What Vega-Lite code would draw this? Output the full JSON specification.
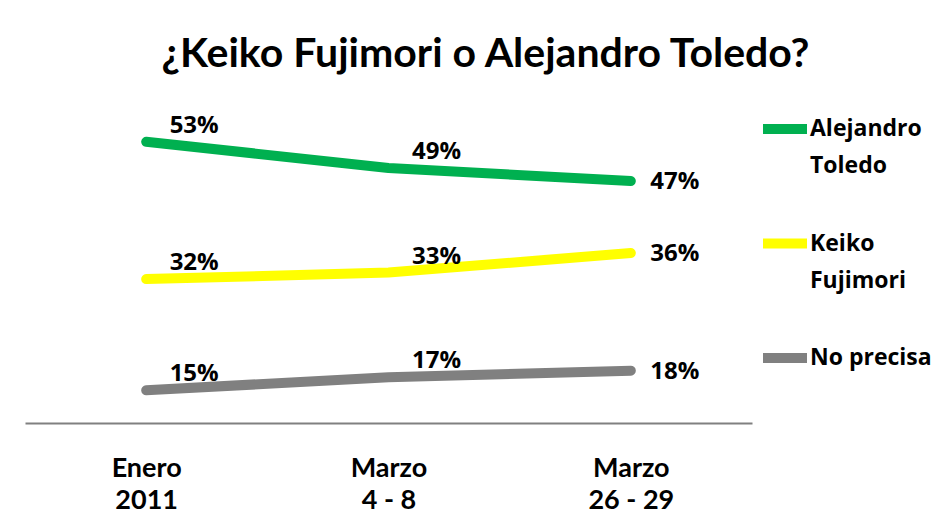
{
  "$schema": "https://vega.github.io/schema/vega-lite/v6.json",
  "width": 727,
  "height": 327,
  "autosize": {"type": "none"},
  "padding": {"left": 25, "top": 96, "right": 199, "bottom": 104},
  "background": "white",
  "title": {
    "text": "¿Keiko Fujimori o Alejandro Toledo?",
    "font": "Lato",
    "fontSize": 41,
    "fontWeight": "bold",
    "color": "black",
    "anchor": "middle",
    "baseline": "alphabetic",
    "offset": -12,
    "dx": 97
  },
  "data": {
    "values": [
      {"periodo": "Enero 2011", "serie": "Alejandro Toledo", "valor": 0.53},
      {"periodo": "Marzo 4 - 8", "serie": "Alejandro Toledo", "valor": 0.49},
      {"periodo": "Marzo 26 - 29", "serie": "Alejandro Toledo", "valor": 0.47},
      {"periodo": "Enero 2011", "serie": "Keiko Fujimori", "valor": 0.32},
      {"periodo": "Marzo 4 - 8", "serie": "Keiko Fujimori", "valor": 0.33},
      {"periodo": "Marzo 26 - 29", "serie": "Keiko Fujimori", "valor": 0.36},
      {"periodo": "Enero 2011", "serie": "No precisa", "valor": 0.15},
      {"periodo": "Marzo 4 - 8", "serie": "No precisa", "valor": 0.17},
      {"periodo": "Marzo 26 - 29", "serie": "No precisa", "valor": 0.18}
    ]
  },
  "encoding": {
    "x": {
      "field": "periodo",
      "type": "nominal",
      "sort": ["Enero 2011", "Marzo 4 - 8", "Marzo 26 - 29"],
      "scale": {"type": "point", "padding": 0.5},
      "axis": {
        "title": null,
        "labelAngle": 0,
        "ticks": false,
        "domainColor": "#808080",
        "domainWidth": 2,
        "labelFont": "Lato",
        "labelFontSize": 27,
        "labelFontWeight": "bold",
        "labelColor": "black",
        "labelPadding": 32,
        "labelLineHeight": 32,
        "labelExpr": "datum.label == 'Enero 2011' ? ['Enero', '2011'] : datum.label == 'Marzo 4 - 8' ? ['Marzo', '4 - 8'] : ['Marzo', '26 - 29']"
      }
    },
    "y": {
      "field": "valor",
      "type": "quantitative",
      "scale": {"domain": [0.10, 0.60], "nice": false, "zero": false},
      "axis": null
    }
  },
  "layer": [
    {
      "mark": {"type": "line", "strokeWidth": 10, "strokeCap": "round", "strokeJoin": "round"},
      "encoding": {
        "color": {
          "field": "serie",
          "type": "nominal",
          "scale": {
            "domain": ["Alejandro Toledo", "Keiko Fujimori", "No precisa"],
            "range": ["#00B050", "#FFFF00", "#808080"]
          },
          "legend": {
            "title": null,
            "orient": "none",
            "legendX": 733,
            "legendY": 6,
            "symbolType": "stroke",
            "symbolStrokeWidth": 10,
            "symbolSize": 1936,
            "labelFont": "Open Sans",
            "labelFontSize": 23,
            "labelFontWeight": "bold",
            "labelColor": "black",
            "labelOffset": -2,
            "labelBaseline": "middle",
            "rowPadding": 38.5,
            "labelExpr": "datum.label == 'No precisa' ? datum.label : split(datum.label, ' ')"
          }
        }
      }
    },
    {
      "transform": [{"filter": "datum.periodo != 'Marzo 26 - 29'"}],
      "mark": {"type": "text", "dx": 48, "dy": -16, "font": "Open Sans", "fontSize": 24, "fontWeight": "bold", "color": "black"},
      "encoding": {"text": {"field": "valor", "type": "quantitative", "format": ".0%"}, "detail": {"field": "serie"}}
    },
    {
      "transform": [{"filter": "datum.periodo == 'Marzo 26 - 29'"}],
      "mark": {"type": "text", "dx": 44, "dy": 1, "font": "Open Sans", "fontSize": 24, "fontWeight": "bold", "color": "black"},
      "encoding": {"text": {"field": "valor", "type": "quantitative", "format": ".0%"}, "detail": {"field": "serie"}}
    }
  ],
  "config": {
    "view": {"stroke": null},
    "style": {"guide-label": {"lineHeight": 37}}
  }
}
